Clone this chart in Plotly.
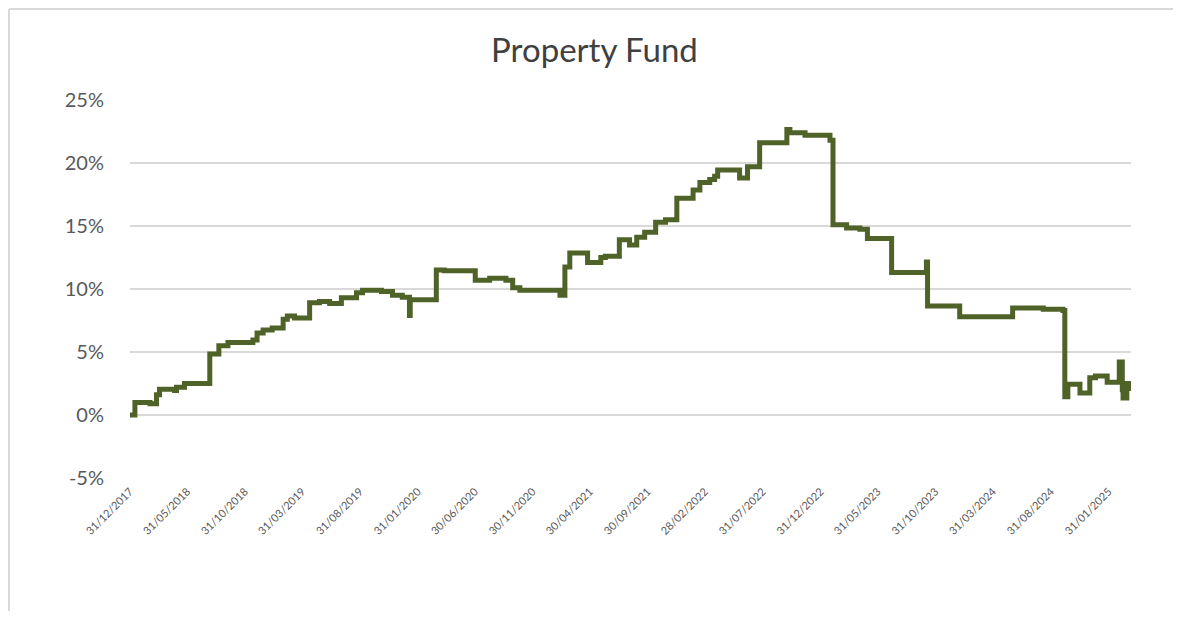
import plotly.graph_objects as go

# ---- data ----
dates = [
    "2017-12-31", "2018-01-13", "2018-02-22", "2018-03-11", "2018-03-19", "2018-04-28",
    "2018-05-03", "2018-05-24", "2018-07-30", "2018-08-23", "2018-09-16", "2018-11-21",
    "2018-12-02", "2018-12-18", "2019-01-11", "2019-02-09", "2019-02-20", "2019-03-11",
    "2019-04-20", "2019-05-16", "2019-06-12", "2019-07-13", "2019-08-22", "2019-09-07",
    "2019-10-27", "2019-11-25", "2019-12-21", "2020-01-09", "2020-01-11", "2020-03-20",
    "2020-04-10", "2020-07-01", "2020-08-08", "2020-09-20", "2020-10-08", "2020-10-27",
    "2021-02-10", "2021-02-23", "2021-03-08", "2021-04-24", "2021-05-29", "2021-06-10",
    "2021-07-17", "2021-08-13", "2021-09-01", "2021-09-22", "2021-10-21", "2021-11-16",
    "2021-12-16", "2022-01-28", "2022-02-15", "2022-03-13", "2022-03-26", "2022-04-03",
    "2022-05-31", "2022-06-21", "2022-07-23", "2022-10-03", "2022-10-11", "2022-11-20",
    "2023-01-25", "2023-02-02", "2023-03-10", "2023-04-14", "2023-05-04", "2023-07-07",
    "2023-10-07", "2023-10-10", "2024-01-03", "2024-05-22", "2024-08-11", "2024-10-02",
    "2024-10-07", "2024-10-15", "2024-11-16", "2024-12-12", "2024-12-27", "2025-01-27",
    "2025-02-28", "2025-03-08", "2025-03-10", "2025-03-20", "2025-03-28", "2025-03-31",
]
returns_pct = [
    0.0, 1.0, 0.9, 1.6, 2.05, 1.95,
    2.2, 2.5, 4.85, 5.5, 5.75, 5.95,
    6.5, 6.75, 6.9, 7.6, 7.85, 7.7,
    8.9, 9.0, 8.85, 9.3, 9.7, 9.9,
    9.8, 9.5, 9.35, 7.9, 9.15, 11.5,
    11.45, 10.7, 10.85, 10.7, 10.1, 9.9,
    9.5, 11.75, 12.85, 12.1, 12.5, 12.6,
    13.9, 13.5, 14.1, 14.5, 15.3, 15.5,
    17.2, 17.85, 18.45, 18.7, 18.95, 19.45,
    18.8, 19.7, 21.6, 22.65, 22.4, 22.2,
    21.8, 15.1, 14.85, 14.75, 14.0, 11.3,
    12.15, 8.65, 7.8, 8.5, 8.4, 8.3,
    1.45, 2.45, 1.75, 2.95, 3.1, 2.6,
    4.2, 2.0, 1.35, 2.5, 2.1, 2.4,
]
returns = [v / 100 for v in returns_pct]

tick_dates = [
    "2017-12-31", "2018-05-31", "2018-10-31", "2019-03-31", "2019-08-31", "2020-01-31",
    "2020-06-30", "2020-11-30", "2021-04-30", "2021-09-30", "2022-02-28", "2022-07-31",
    "2022-12-31", "2023-05-31", "2023-10-31", "2024-03-31", "2024-08-31", "2025-01-31",
]
tick_labels = [
    "31/12/2017", "31/05/2018", "31/10/2018", "31/03/2019", "31/08/2019", "31/01/2020",
    "30/06/2020", "30/11/2020", "30/04/2021", "30/09/2021", "28/02/2022", "31/07/2022",
    "31/12/2022", "31/05/2023", "31/10/2023", "31/03/2024", "31/08/2024", "31/01/2025",
]
y_tick_values = [-0.05, 0.0, 0.05, 0.10, 0.15, 0.20, 0.25]
y_tick_labels = ["-5%", "0%", "5%", "10%", "15%", "20%", "25%"]

title_text = "Property Fund"
line_color = "#4F6228"
grid_color = "#D9D9D9"
text_color = "#595959"
font_family = "Lato, 'Open Sans', sans-serif"

fig = go.Figure()
fig.add_trace(go.Scatter(
    x=dates, y=returns, mode="lines",
    line=dict(color=line_color, width=5, shape="hv"),
    hoverinfo="x+y", showlegend=False,
))

fig.update_layout(
    width=1165, height=603,
    paper_bgcolor="white", plot_bgcolor="white",
    margin=dict(l=122, r=42, t=92, b=133),
    font=dict(family=font_family, color=text_color),
    title=dict(text=title_text, xref="paper", x=0.464, xanchor="center",
               yref="container", y=0.930, yanchor="middle",
               font=dict(size=33, color="#404040", family=font_family)),
    xaxis=dict(
        type="date", range=["2017-12-31", "2025-03-31"],
        tickmode="array", tickvals=tick_dates, ticktext=tick_labels,
        tickangle=-45, tickfont=dict(size=11, color=text_color),
        showgrid=False, showline=False, zeroline=False, ticks="",
        ticklabelstandoff=4,
    ),
    yaxis=dict(
        range=[-0.05, 0.25], tickmode="array",
        tickvals=y_tick_values, ticktext=y_tick_labels,
        tickfont=dict(size=20, color=text_color),
        showgrid=True, gridcolor=grid_color, gridwidth=2,
        zeroline=False, showline=False, ticks="", ticklabelstandoff=25,
    ),
    shapes=[
        dict(type="line", xref="paper", yref="paper", x0=-0.1209, x1=1.05, y0=1.2407, y1=1.2407,
             line=dict(color=grid_color, width=2)),
        dict(type="line", xref="paper", yref="paper", x0=-0.1209, x1=-0.1209, y0=-0.45, y1=1.2407,
             line=dict(color=grid_color, width=2)),
    ],
)

fig.write_html("out.html", config={"displayModeBar": False})
